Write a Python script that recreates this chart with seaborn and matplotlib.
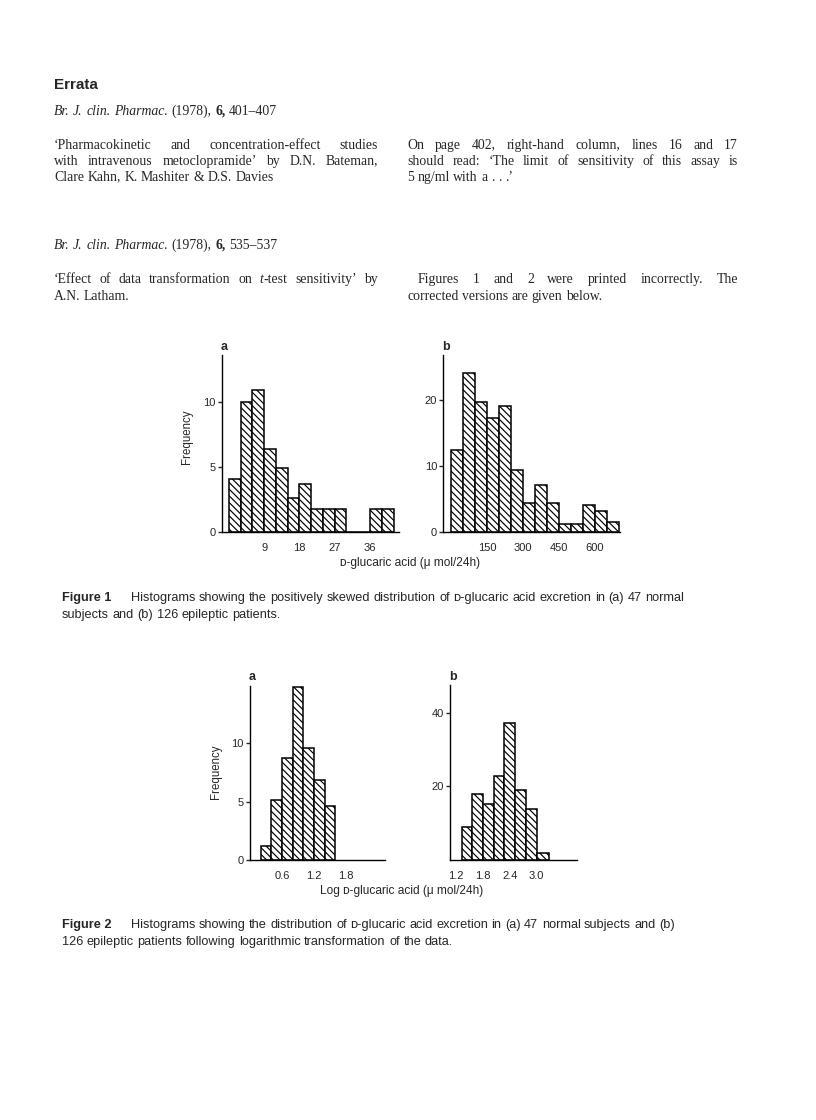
import matplotlib
matplotlib.use("Agg")
import matplotlib.pyplot as plt
import pandas as pd
import seaborn as sns

# Figure 1a : D-glucaric acid excretion, 47 normal subjects (bins of 3)
f1a_edges = [0, 3, 6, 9, 12, 15, 18, 21, 24, 27, 30, 33, 36, 39, 42]
f1a_counts = [4.1, 10.0, 10.9, 6.4, 4.9, 2.6, 3.7, 1.8, 1.8, 1.8, 0, 0, 1.8, 1.8]
f1a_xticks = [9, 18, 27, 36]
f1a_yticks = [0, 5, 10]

# Figure 1b : 126 epileptic patients (bins of 50)
f1b_edges = [0, 50, 100, 150, 200, 250, 300, 350, 400, 450, 500, 550, 600, 650, 700]
f1b_counts = [12.4, 24.0, 19.6, 17.3, 19.1, 9.3, 4.4, 7.1, 4.3, 1.2, 1.2, 4.1, 3.1, 1.4]
f1b_xticks = [150, 300, 450, 600]
f1b_yticks = [0, 10, 20]

# Figure 2a : log values, normal subjects
f2a_edges = [0.2, 0.4, 0.6, 0.8, 1.0, 1.2, 1.4, 1.6]
f2a_counts = [1.2, 5.1, 8.7, 14.8, 9.6, 6.8, 4.6]
f2a_xticks = [0.6, 1.2, 1.8]
f2a_yticks = [0, 5, 10]

# Figure 2b : log values, epileptic patients
f2b_edges = [1.33, 1.55, 1.80, 2.04, 2.28, 2.52, 2.77, 3.02, 3.27]
f2b_counts = [8.9, 18.0, 15.1, 23.0, 37.4, 19.0, 13.9, 1.8]
f2b_xticks = [1.2, 1.8, 2.4, 3.0]
f2b_yticks = [20, 40]

sns.set_theme(style="ticks")
SANS = ["Liberation Sans", "DejaVu Sans"]
SERIF = ["Liberation Serif", "DejaVu Serif"]
plt.rcParams["font.family"] = SANS
plt.rcParams["hatch.linewidth"] = 0.85
plt.rcParams["hatch.color"] = "black"
plt.rcParams["axes.edgecolor"] = "black"

W, H = 816, 1120
fig = plt.figure(figsize=(W / 100, H / 100), dpi=100, facecolor="white")
rend = fig.canvas.get_renderer()


def fx(px):
    return px / W


def fy(py):
    # small upward nudge so every word lands on the same pixel baseline
    return 1 - (py - 0.49) / H


BODY = 9.9
CAP = 9.2
styles = {
    "r": dict(family=SERIF, size=BODY),
    "i": dict(family=SERIF, size=BODY, style="italic"),
    "b": dict(family=SERIF, size=BODY, weight="bold"),
    "s": dict(family=SANS, size=CAP),
    "sb": dict(family=SANS, size=CAP, weight="bold"),
}


def width(txt, st):
    t = fig.text(0, 0, txt, **styles[st])
    w = t.get_window_extent(rend).width
    t.remove()
    return w


def adv(txt, st):
    # advance width, measured between two bars so ink padding cancels out
    return width("|" + txt + "|", st) - width("||", st)


def ws(s, st="r"):
    return [[(w, st)] for w in s.split()]


def put_line(words, x0, y, x1=None):
    # words: list of words, each a list of (text, style) runs
    wid = [sum(adv(t, st) for t, st in w) for w in words]
    if x1 is not None and len(words) > 1:
        gap = (x1 - x0 - sum(wid)) / (len(words) - 1)
    else:
        gap = adv(" ", words[-1][-1][1])
    x = x0
    for w, ww in zip(words, wid):
        for t, st in w:
            fig.text(fx(x), fy(y), t, va="baseline", ha="left", **styles[st])
            x += adv(t, st)
        x += gap


# ---- text block
fig.text(fx(54), fy(89), "Errata", family=SANS, weight="bold", size=11, va="baseline")

put_line(ws("Br. J. clin. Pharmac.", "i") + ws("(1978),") + ws("6,", "b") + ws("401–407"), 54, 115)
put_line(ws("‘Pharmacokinetic and concentration-effect studies"), 54, 149, 378)
put_line(ws("with intravenous metoclopramide’ by D.N. Bateman,"), 54, 165, 378)
put_line(ws("Clare Kahn, K. Mashiter & D.S. Davies"), 54, 181)
put_line(ws("On page 402, right-hand column, lines 16 and 17"), 407, 149, 738)
put_line(ws("should read: ‘The limit of sensitivity of this assay is"), 407, 165, 738)
put_line(ws("5 ng/ml with a . . .’"), 407, 181)

put_line(ws("Br. J. clin. Pharmac.", "i") + ws("(1978),") + ws("6,", "b") + ws("535–537"), 54, 249)
put_line(ws("‘Effect of data transformation on") + [[("t", "i"), ("-test", "r")]] + ws("sensitivity’ by"),
         54, 283, 378)
put_line(ws("A.N. Latham."), 54, 300)
put_line(ws("Figures 1 and 2 were printed incorrectly. The"), 418, 283, 738)
put_line(ws("corrected versions are given below."), 407, 300)


# ---- histograms
def panel(l, t, r, b, edges, counts, xlim, ylim, xticks, yticks, letter):
    ax = fig.add_axes([l / W, 1 - b / H, (r - l) / W, (b - t) / H])
    df = pd.DataFrame({"x": [(a + c) / 2 for a, c in zip(edges[:-1], edges[1:])], "n": counts})
    sns.histplot(data=df, x="x", weights="n", bins=edges, ax=ax,
                 facecolor="white", edgecolor="black", linewidth=1.1,
                 hatch="\\\\\\\\\\", alpha=1)
    ax.set_xlim(xlim)
    ax.set_ylim(ylim)
    ax.set_xticks(xticks)
    ax.set_xticklabels([str(v) for v in xticks])
    ax.set_yticks(yticks)
    ax.set_xlabel("")
    ax.set_ylabel("")
    sns.despine(ax=ax)
    for s in ("left", "bottom"):
        ax.spines[s].set_linewidth(1.0)
    ax.tick_params(axis="x", length=0, pad=8, labelsize=8)
    ax.tick_params(axis="y", length=3, width=1.0, direction="out", pad=1.5, labelsize=8)
    ax.set_facecolor("none")
    fig.text(fx(l - 1), fy(t - 8), letter, family=SANS, weight="bold", size=9, va="center", ha="left")
    return ax


panel(221.7, 355, 399, 532.3, f1a_edges, f1a_counts, (-1.8, 43.4), (0, 13.6), f1a_xticks, f1a_yticks, "a")
panel(443.3, 355, 620, 531.7, f1b_edges, f1b_counts, (-34, 704), (0, 26.8), f1b_xticks, f1b_yticks, "b")
panel(250, 685.7, 385, 860, f2a_edges, f2a_counts, (0, 2.53), (0, 14.9), f2a_xticks, f2a_yticks, "a")
panel(450, 685, 577, 859.5, f2b_edges, f2b_counts, (1.066, 3.907), (0, 47.8), f2b_xticks, f2b_yticks, "b")

fig.text(fx(187), fy(437), "Frequency", rotation=90, size=8.3, va="center", ha="center")
fig.text(fx(216), fy(772), "Frequency", rotation=90, size=8.3, va="center", ha="center")
fig.text(fx(410), fy(563), "ᴅ-glucaric acid (μ mol/24h)", size=8.6, va="center", ha="center")
fig.text(fx(402), fy(891), "Log ᴅ-glucaric acid (μ mol/24h)", size=8.6, va="center", ha="center")

# ---- captions
put_line([[("Figure 1", "sb")]], 62, 601)
put_line(ws("Histograms showing the positively skewed distribution of ᴅ-glucaric acid excretion in (a) 47 normal", "s"),
         131, 601)
put_line(ws("subjects and (b) 126 epileptic patients.", "s"), 62, 618)
put_line([[("Figure 2", "sb")]], 62, 928)
put_line(ws("Histograms showing the distribution of ᴅ-glucaric acid excretion in (a) 47 normal subjects and (b)", "s"),
         131, 928)
put_line(ws("126 epileptic patients following logarithmic transformation of the data.", "s"), 62, 945)

fig.savefig("out.png", dpi=100, facecolor="white")
